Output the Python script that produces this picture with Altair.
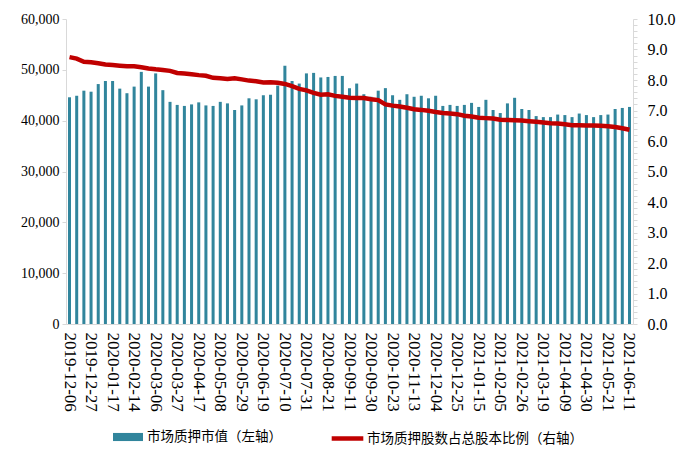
import altair as alt
import pandas as pd

dates = [
    "2019-12-06", "2019-12-13", "2019-12-20", "2019-12-27", "2020-01-03", "2020-01-10",
    "2020-01-17", "2020-01-23", "2020-02-07", "2020-02-14", "2020-02-21", "2020-02-28",
    "2020-03-06", "2020-03-13", "2020-03-20", "2020-03-27", "2020-04-03", "2020-04-10",
    "2020-04-17", "2020-04-24", "2020-04-30", "2020-05-08", "2020-05-15", "2020-05-22",
    "2020-05-29", "2020-06-05", "2020-06-12", "2020-06-19", "2020-06-24", "2020-07-03",
    "2020-07-10", "2020-07-17", "2020-07-24", "2020-07-31", "2020-08-07", "2020-08-14",
    "2020-08-21", "2020-08-28", "2020-09-04", "2020-09-11", "2020-09-18", "2020-09-25",
    "2020-09-30", "2020-10-09", "2020-10-16", "2020-10-23", "2020-10-30", "2020-11-06",
    "2020-11-13", "2020-11-20", "2020-11-27", "2020-12-04", "2020-12-11", "2020-12-18",
    "2020-12-25", "2020-12-31", "2021-01-08", "2021-01-15", "2021-01-22", "2021-01-29",
    "2021-02-05", "2021-02-10", "2021-02-19", "2021-02-26", "2021-03-05", "2021-03-12",
    "2021-03-19", "2021-03-26", "2021-04-02", "2021-04-09", "2021-04-16", "2021-04-23",
    "2021-04-30", "2021-05-07", "2021-05-14", "2021-05-21", "2021-05-28", "2021-06-04",
    "2021-06-11",
]

market_value = [
    44600, 44900, 45900, 45700, 47200, 47800, 47800, 46300, 45400, 46700,
    49600, 46700, 49300, 46000, 43700, 43100, 42900, 43200, 43600, 43000,
    42900, 43700, 43400, 42100, 43000, 44400, 44200, 45000, 45100, 46900,
    50800, 47800, 47300, 49300, 49400, 48500, 48600, 48800, 48800, 46400,
    47300, 45200, 44700, 45900, 46400, 45000, 44100, 45200, 44700, 44900,
    44400, 44900, 42900, 43100, 42900, 43100, 43500, 42700, 44100, 42100,
    41500, 43400, 44500, 42300, 42100, 40900, 40700, 40700, 41200, 41100,
    40700, 41400, 41100, 40700, 41100, 41200, 42300, 42500, 42700,
]

pledge_ratio = [
    8.75, 8.70, 8.60, 8.58, 8.55, 8.51, 8.49, 8.47, 8.45, 8.45,
    8.42, 8.38, 8.35, 8.33, 8.30, 8.23, 8.21, 8.19, 8.16, 8.14,
    8.07, 8.06, 8.03, 8.06, 8.02, 7.98, 7.96, 7.92, 7.93, 7.91,
    7.87, 7.80, 7.71, 7.66, 7.58, 7.52, 7.53, 7.48, 7.45, 7.42,
    7.41, 7.41, 7.37, 7.34, 7.20, 7.16, 7.13, 7.09, 7.04, 7.02,
    6.99, 6.95, 6.92, 6.90, 6.88, 6.83, 6.80, 6.76, 6.75, 6.74,
    6.70, 6.69, 6.68, 6.67, 6.65, 6.63, 6.61, 6.58, 6.57, 6.55,
    6.52, 6.52, 6.51, 6.51, 6.50, 6.48, 6.46, 6.42, 6.37,
]

bar_name = "市场质押市值（左轴）"
line_name = "市场质押股数占总股本比例（右轴）"

shown_dates = dates[::3]
left_ticks = [0, 10000, 20000, 30000, 40000, 50000, 60000]
right_ticks = [round(i * 0.2, 1) for i in range(51)]

df = pd.DataFrame({
    "date": dates,
    "value": market_value,
    "ratio": pledge_ratio,
    "bar_s": bar_name,
    "line_s": line_name,
})

FONT = "Liberation Serif"
CJK = "Noto Sans CJK SC"

x_enc = alt.X(
    "date:N",
    sort=None,
    scale=alt.Scale(paddingInner=0.58, paddingOuter=0.28),
    axis=alt.Axis(
        title=None,
        values=shown_dates,
        labelAngle=90,
        labelFont=FONT,
        labelFontSize=17,
        labelColor="#000000",
        labelPadding=8,
        ticks=False,
        domainColor="#D9D9D9",
        domainWidth=1,
    ),
)

bars = alt.Chart(df).mark_bar(color="#31859C").encode(
    x=x_enc,
    y=alt.Y(
        "value:Q",
        scale=alt.Scale(domain=[0, 60000], nice=False),
        axis=alt.Axis(
            title=None,
            values=left_ticks,
            format=",.0f",
            labelFont=FONT,
            labelFontSize=14,
            labelColor="#000000",
            tickColor="#D9D9D9",
            tickSize=4,
            domainColor="#D9D9D9",
            grid=False,
            labelPadding=3,
        ),
    ),
    color=alt.Color(
        "bar_s:N",
        scale=alt.Scale(domain=[bar_name], range=["#31859C"]),
        legend=alt.Legend(
            title=None,
            orient="none",
            legendX=46,
            legendY=402,
            symbolType="M-1,-0.27H1V0.27H-1Z",
            symbolSize=900,
            labelFont=CJK,
            labelFontSize=13.5,
            labelColor="#000000",
            labelOffset=3,
            labelLimit=400,
            padding=0,
        ),
    ),
)

line = alt.Chart(df).mark_line(color="#C00000", strokeWidth=4.5).encode(
    x=x_enc,
    y=alt.Y(
        "ratio:Q",
        scale=alt.Scale(domain=[0, 10], nice=False),
        axis=alt.Axis(
            title=None,
            orient="right",
            values=right_ticks,
            labelExpr="round(datum.value * 10) % 10 == 0 ? format(datum.value, '.1f') : ''",
            labelFont=FONT,
            labelFontSize=16,
            labelColor="#000000",
            tickColor="#D9D9D9",
            tickSize=4,
            domainColor="#D9D9D9",
            grid=False,
            labelPadding=10,
        ),
    ),
    stroke=alt.Stroke(
        "line_s:N",
        scale=alt.Scale(domain=[line_name], range=["#C00000"]),
        legend=alt.Legend(
            title=None,
            orient="none",
            legendX=263,
            legendY=401,
            symbolType="stroke",
            symbolSize=1000,
            symbolStrokeWidth=4.5,
            labelFont=CJK,
            labelFontSize=13.5,
            labelColor="#000000",
            labelOffset=1,
            labelLimit=400,
            padding=0,
        ),
    ),
)

chart = (
    alt.layer(bars, line)
    .resolve_scale(y="independent", color="independent", stroke="independent")
    .properties(
        width=567,
        height=305,
        autosize=alt.AutoSizeParams(type="none"),
        padding={"left": 58, "top": 11, "right": 45, "bottom": 122},
    )
    .configure_view(stroke=None)
)

chart.save("out.html", embed_options={"renderer": "svg", "actions": False})
